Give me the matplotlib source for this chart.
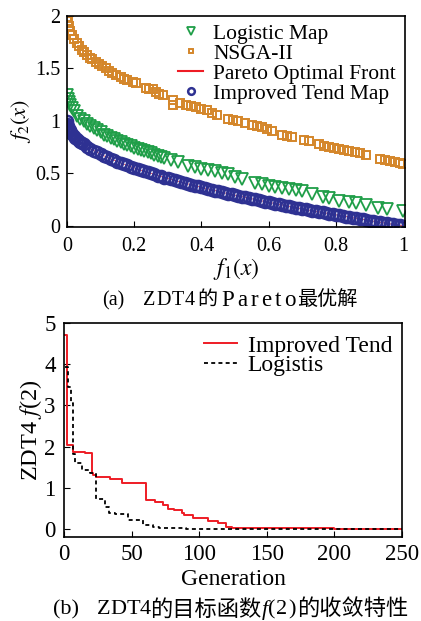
import numpy as np
import matplotlib
matplotlib.use('Agg')
import matplotlib.pyplot as plt

plt.rcParams['font.family'] = ['Liberation Serif', 'Noto Sans CJK SC']
plt.rcParams['mathtext.fontset'] = 'stix'

# (a) ZDT4 Pareto solutions
logistic_f1 = [0, 0.003, 0.006, 0.01, 0.015, 0.02, 0.03, 0.04, 0.05, 0.06, 0.07, 0.08,
               0.09, 0.10, 0.11, 0.12, 0.13, 0.14, 0.15, 0.16, 0.17, 0.18, 0.19, 0.20,
               0.21, 0.22, 0.23, 0.24, 0.25, 0.26, 0.27, 0.28, 0.29, 0.31, 0.33,
               0.36, 0.38, 0.40, 0.42, 0.44, 0.46, 0.48, 0.50, 0.52,
               0.56, 0.58, 0.60, 0.62, 0.64, 0.66, 0.68, 0.70, 0.73, 0.76, 0.78,
               0.81, 0.84, 0.86, 0.89, 0.925, 0.95, 1.0]
logistic_f2 = [1.25, 1.21, 1.18, 1.15, 1.12, 1.09, 1.05, 1.02, 1.00, 0.97, 0.95, 0.93,
               0.91, 0.89, 0.87, 0.86, 0.84, 0.83, 0.81, 0.80, 0.78, 0.77, 0.76, 0.74,
               0.73, 0.72, 0.71, 0.70, 0.69, 0.68, 0.67, 0.66, 0.65, 0.63, 0.61,
               0.57, 0.56, 0.54, 0.53, 0.52, 0.50, 0.49, 0.47, 0.45,
               0.41, 0.40, 0.38, 0.37, 0.36, 0.35, 0.34, 0.33, 0.30, 0.28, 0.27,
               0.24, 0.23, 0.22, 0.20, 0.17, 0.16, 0.14]

nsga_f1 = [0, 0.003, 0.006, 0.01, 0.015, 0.02, 0.03, 0.035, 0.045, 0.05, 0.06, 0.07,
           0.075, 0.085, 0.095, 0.105, 0.115, 0.125, 0.135, 0.145, 0.16, 0.17, 0.18,
           0.195, 0.205, 0.235, 0.245, 0.255, 0.265, 0.275, 0.285, 0.315, 0.315,
           0.335, 0.355, 0.37, 0.385, 0.40, 0.415, 0.43, 0.445, 0.48, 0.495, 0.51,
           0.53, 0.55, 0.565, 0.58, 0.595, 0.61, 0.64, 0.655, 0.67, 0.705, 0.72,
           0.75, 0.765, 0.78, 0.795, 0.81, 0.825, 0.84, 0.855, 0.87, 0.89,
           0.93, 0.945, 0.96, 0.975, 0.99, 1.0]
nsga_f2 = [1.99, 1.95, 1.90, 1.86, 1.82, 1.78, 1.74, 1.71, 1.68, 1.66, 1.63, 1.60,
           1.59, 1.56, 1.54, 1.52, 1.50, 1.48, 1.46, 1.44, 1.42, 1.40, 1.39,
           1.37, 1.36, 1.31, 1.30, 1.30, 1.28, 1.26, 1.25, 1.20, 1.15,
           1.17, 1.15, 1.14, 1.13, 1.11, 1.10, 1.08, 1.06, 1.02, 1.01, 1.00,
           0.98, 0.96, 0.95, 0.94, 0.92, 0.90, 0.87, 0.86, 0.85, 0.82, 0.81,
           0.78, 0.76, 0.75, 0.74, 0.73, 0.72, 0.71, 0.70, 0.69, 0.68,
           0.64, 0.63, 0.62, 0.61, 0.60, 0.59]

improved_f1 = [0, 0.001, 0.002, 0.004, 0.006, 0.008, 0.01, 0.013, 0.016, 0.02, 0.025,
               0.03, 0.035, 0.04, 0.045, 0.05, 0.06, 0.07, 0.08, 0.09,
               0.10, 0.11, 0.12, 0.13, 0.14, 0.15, 0.16, 0.17, 0.18, 0.19,
               0.20, 0.21, 0.22, 0.23, 0.24, 0.25, 0.26, 0.27, 0.28, 0.29,
               0.30, 0.31, 0.32, 0.33, 0.34, 0.35, 0.36, 0.37, 0.38, 0.39,
               0.40, 0.41, 0.42, 0.43, 0.44, 0.45, 0.46, 0.47, 0.48, 0.49,
               0.50, 0.51, 0.52, 0.53, 0.54, 0.55, 0.56, 0.57, 0.58, 0.59,
               0.60, 0.61, 0.62, 0.63, 0.64, 0.65, 0.66, 0.67, 0.68, 0.69,
               0.70, 0.71, 0.72, 0.73, 0.74, 0.75, 0.76, 0.77, 0.78, 0.79,
               0.80, 0.81, 0.82, 0.83, 0.84, 0.85, 0.86, 0.87, 0.88, 0.89,
               0.90, 0.91, 0.92, 0.93, 0.94, 0.95, 0.96, 0.97, 0.98, 0.99, 1.00]
improved_f2 = [1.000, 0.968, 0.955, 0.937, 0.923, 0.911, 0.900, 0.886, 0.874, 0.859, 0.842,
               0.827, 0.813, 0.800, 0.788, 0.776, 0.755, 0.735, 0.717, 0.700,
               0.684, 0.668, 0.654, 0.639, 0.626, 0.613, 0.600, 0.588, 0.576, 0.564,
               0.553, 0.542, 0.531, 0.520, 0.510, 0.500, 0.490, 0.480, 0.471, 0.461,
               0.452, 0.443, 0.434, 0.426, 0.417, 0.408, 0.400, 0.392, 0.384, 0.376,
               0.368, 0.360, 0.352, 0.344, 0.337, 0.329, 0.322, 0.314, 0.307, 0.300,
               0.293, 0.286, 0.279, 0.272, 0.265, 0.258, 0.252, 0.245, 0.238, 0.232,
               0.225, 0.219, 0.213, 0.206, 0.200, 0.194, 0.188, 0.181, 0.175, 0.169,
               0.163, 0.157, 0.151, 0.146, 0.140, 0.134, 0.128, 0.123, 0.117, 0.111,
               0.106, 0.100, 0.094, 0.089, 0.083, 0.078, 0.073, 0.067, 0.062, 0.057,
               0.051, 0.046, 0.041, 0.036, 0.030, 0.025, 0.020, 0.015, 0.010, 0.005, 0.000]

# (b) convergence of f(2), step change points
tend_gen = [1, 2, 6.5, 15.5, 20.5, 21.5, 24, 34, 43, 61, 67, 73.5, 77, 81, 87, 89,
            95.5, 100.5, 106.5, 114, 120, 124, 150, 200, 250]
tend_val = [4.7, 2.04, 1.88, 1.84, 1.35, 1.31, 1.27, 1.21, 1.12, 0.70, 0.66, 0.58,
            0.50, 0.46, 0.38, 0.34, 0.28, 0.26, 0.20, 0.14, 0.06, 0.025, 0.02, 0.015, 0.015]
logis_gen = [1, 3, 5.5, 6.5, 8.5, 13, 19, 23.5, 30.5, 33, 37.5, 47.5, 58.5, 66, 70,
             90, 250]
logis_val = [3.94, 3.45, 3.05, 1.82, 1.61, 1.43, 1.37, 0.74, 0.54, 0.38, 0.36, 0.22,
             0.10, 0.04, 0.02, 0.01, 0.01]

W, H = 421, 621
fig = plt.figure(figsize=(W / 100, H / 100), dpi=100)
renderer = fig.canvas.get_renderer()


def caption(pieces, y, size):
    # pieces: (text, start x in px or None to follow on, italic, end x for letter spacing, size)
    x_px = 0
    for txt, start, italic, end, fs in pieces:
        fs = fs or size
        if start is not None:
            x_px = start
        style = 'italic' if italic else 'normal'
        if end is None:
            t = fig.text(x_px / W, y, txt, ha='left', va='center', fontsize=fs,
                         style=style)
            x_px = t.get_window_extent(renderer).x1 + (1 if italic else 0)
        else:
            # spread the letters evenly between start and end
            chars = [fig.text(0, y, c, ha='left', va='center', fontsize=fs)
                     for c in txt]
            widths = [c.get_window_extent(renderer).width for c in chars]
            gap = max(0, (end - x_px - sum(widths)) / (len(txt) - 1))
            for c, w in zip(chars, widths):
                c.set_x(x_px / W)
                x_px += w + gap
            x_px = end


# ---- (a)
ax1 = fig.add_axes([0.159, 0.6345, 0.803, 0.3398])
ax1.plot(logistic_f1, logistic_f2, linestyle='none', marker='v', ms=8.5,
         mfc='none', mec='#1f9e48', mew=1.3, label='Logistic Map')
ax1.plot(nsga_f1, nsga_f2, linestyle='none', marker='s', ms=6, mfc='none',
         mec='#d4862a', mew=1.4, label='NSGA-II')
ax1.plot(improved_f1, improved_f2, color='#ee1c25', lw=0.5, label='Pareto Optimal Front')
ax1.plot(improved_f1, improved_f2, linestyle='none', marker='o', ms=8, mfc='none',
         mec='#2e3192', mew=1.8, label='Improved Tend Map')

ax1.set_xlim(0, 1.005)
ax1.set_ylim(-0.01, 2)
ax1.set_xticks([0, 0.2, 0.4, 0.6, 0.8, 1])
ax1.set_xticklabels(['0', '0.2', '0.4', '0.6', '0.8', '1'])
ax1.set_yticks([0, 0.5, 1, 1.5, 2])
ax1.set_yticklabels(['0', '0.5', '1', '1.5', '2'])
ax1.tick_params(direction='in', length=4, labelsize=14.5, top=False, right=False)
ax1.tick_params(axis='x', pad=7)
ax1.tick_params(axis='y', pad=5)
ax1.set_xlabel(r'$f_1(x)$', fontsize=17, labelpad=0)
ax1.set_ylabel(r'$f_2(x)$', fontsize=16, labelpad=1)
for s in ax1.spines.values():
    s.set_linewidth(1.2)
leg1 = ax1.legend(loc='upper right', bbox_to_anchor=(1.005, 1.015), frameon=False,
                  fontsize=15.5, labelspacing=0.0, handlelength=1.2,
                  handletextpad=0.45, borderaxespad=0.1, markerscale=0.6)
leg1.get_lines()[2].set_linewidth(1.5)

caption([('(a)', 102, False, None, None), ('ZDT4', 143, False, 195, None),
         ('的', 197, False, None, None), ('Pareto', 221, False, 296, 16.5),
         ('最优解', 297, False, None, None)], 0.516, 14.5)

# ---- (b)
ax2 = fig.add_axes([0.152, 0.1353, 0.803, 0.3446])
ax2.step(tend_gen, tend_val, where='post', color='#ee1c25', lw=1.4,
         label='Improved Tend')
ax2.step(logis_gen, logis_val, where='post', color='black', lw=1.3,
         linestyle=(0, (2.2, 1.8)), label='Logistis')
ax2.set_xlim(0, 250)
ax2.set_ylim(-0.19, 5)
ax2.set_xticks([0, 50, 100, 150, 200, 250])
ax2.set_yticks([0, 1, 2, 3, 4, 5])
ax2.tick_params(direction='in', length=4, labelsize=16.5, top=False, right=False)
ax2.tick_params(axis='x', pad=5)
ax2.tick_params(axis='y', pad=6)
ax2.set_xlabel('Generation', fontsize=17, labelpad=3)
ax2.set_ylabel(r'ZDT4 $f$(2)', fontsize=17.5, labelpad=0)
for s in ax2.spines.values():
    s.set_linewidth(1.2)
ax2.legend(loc='upper right', bbox_to_anchor=(1.02, 1.02), frameon=False,
           fontsize=17, labelspacing=-0.1, handlelength=1.4, handletextpad=0.45,
           borderaxespad=0.3)

caption([('(b)', 53, False, None, None), ('ZDT4', 97, False, 149, None),
         ('的目标函数', 150, False, None, None), ('f', 262, True, None, None),
         ('(2)', 268, False, 296, None), ('的收敛特性', 297, False, None, None)],
        0.018, 16)

fig.savefig('out.png', dpi=100)
